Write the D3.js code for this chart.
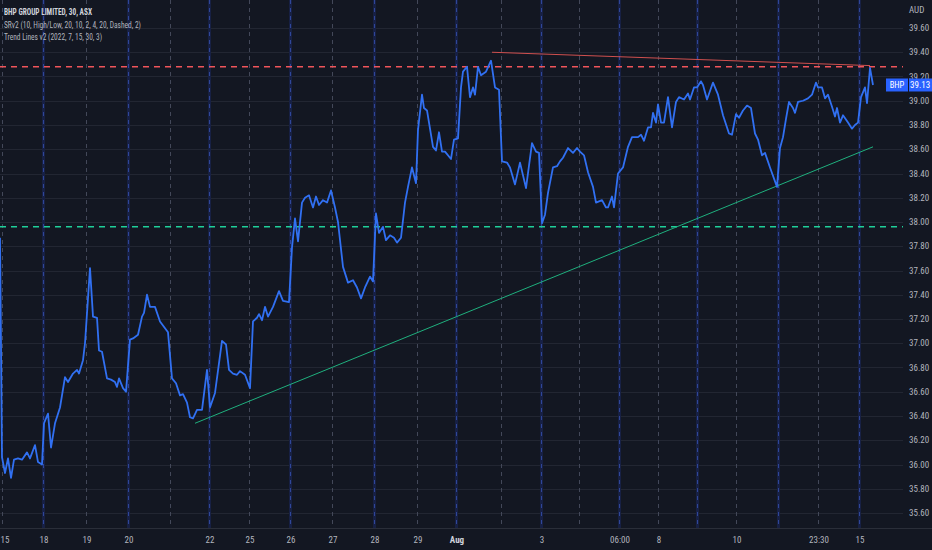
<!DOCTYPE html>
<html>
<head>
<meta charset="utf-8">
<script src="https://cdn.jsdelivr.net/npm/d3@7/dist/d3.min.js"></script>
<style>
  html, body { margin: 0; padding: 0; background: #131722; }
  svg { display: block; }
  text { font-family: "Liberation Sans Narrow", "Roboto Condensed", Roboto, sans-serif; }
</style>
</head>
<body>
<svg id="chart" width="932" height="550"></svg>
<script>
// time index of each traced close (15-min steps from the left edge of the view)
var steps = [
    0, 1, 2.5, 4, 5.5, 7, 9, 11, 13.5, 15, 17.5, 19, 21, 22, 24, 25.5, 27.5, 30,
    32.5, 34, 36.5, 38.5, 39.5, 41.5, 42.5, 45, 46.5, 48.5, 49.5, 51, 53.5, 55.5,
    57.5, 58.5, 59.5, 61.5, 63, 65, 66.5, 69, 71, 72, 73.5, 75, 77.5, 80, 84, 86,
    88, 90, 91.5, 93.5, 95, 96.5, 98.5, 101, 103.5, 105, 107.5, 111, 113, 114.5,
    116.5, 118.5, 120, 122.5, 125, 126.5, 128.5, 129.5, 131, 132.5, 134, 136.5,
    139.5, 141.5, 144.5, 146, 147.5, 149, 151, 152.5, 154.5, 156.5, 158, 159.5,
    161.5, 163.5, 165.5, 167.5, 169, 171.5, 174, 176.5, 178.5, 180.5, 182.5, 185,
    186.5, 188, 189.5, 191.5, 193, 195, 197, 198.5, 200.5, 202.5, 204, 206, 208,
    209, 211, 212, 213.5, 216.5, 218, 219.5, 221, 222.5, 225.5, 227, 229, 230.5,
    231.5, 233.5, 235, 236.5, 237.5, 239, 240.5, 243, 245.5, 247.5, 249.5, 251,
    253.5, 255, 257.5, 260, 263, 266, 268, 269.5, 271, 272.5, 274, 276.5, 278.5,
    280, 281.5, 284, 286.5, 288.5, 290, 292, 294, 296.5, 298, 301, 303, 304, 306,
    307, 309, 311.5, 314, 316, 319, 320.5, 322, 324, 325.5, 326.5, 328, 329, 330.5,
    332, 334, 336, 338, 339.5, 342, 344, 345, 347, 348.5, 350.5, 351.5, 353.5,
    356.5, 359, 361.5, 364.5, 366, 368, 369.5, 371.5, 373.5, 375.5, 377.5, 379,
    381, 382.5, 385, 388.5, 390, 391.5, 393, 394.5, 396.5, 397.5, 399, 401.5, 404,
    406, 408, 409, 411, 412.5, 414, 416, 417.5, 418.5, 420, 421.5, 424, 426, 427.5,
    429, 430.5, 432.5, 433.5, 435, 436.5
];
var closes = [
    37.87, 36.06, 35.93, 36.05, 35.89, 36.04, 36.05, 36.04, 36.10, 36.05, 36.16, 36.02, 36.00, 36.34, 36.42, 36.14, 36.34, 36.47,
    36.72, 36.68, 36.75, 36.78, 36.75, 36.86, 37.00, 37.62, 37.22, 37.21, 36.94, 36.93, 36.71, 36.70,
    36.68, 36.64, 36.71, 36.63, 36.60, 37.03, 37.04, 37.07, 37.22, 37.25, 37.40, 37.30, 37.30, 37.18, 37.09, 36.71,
    36.67, 36.57, 36.58, 36.51, 36.39, 36.38, 36.45, 36.45, 36.78, 36.47, 36.59, 37.02, 36.99, 36.78,
    36.75, 36.74, 36.77, 36.74, 36.63, 37.18, 37.21, 37.24, 37.19, 37.30, 37.22, 37.30,
    37.43, 37.35, 37.34, 37.79, 38.03, 37.84, 38.16, 38.20, 38.22, 38.12, 38.21, 38.14,
    38.18, 38.16, 38.26, 38.12, 38.00, 37.63, 37.50, 37.52, 37.46, 37.37, 37.46, 37.55,
    37.51, 38.07, 37.91, 37.96, 37.85, 37.89, 37.87, 37.83, 37.87, 38.16, 38.29, 38.45, 38.32,
    38.76, 39.05, 38.94, 38.92, 38.62, 38.59, 38.74, 38.58, 38.58, 38.52, 38.68, 38.69, 39.11,
    39.24, 39.28, 39.03, 39.11, 39.05, 39.28, 39.21, 39.24, 39.33, 39.11, 39.09, 38.50,
    38.49, 38.45, 38.31, 38.49, 38.28, 38.65, 38.58, 38.57, 37.99, 38.06, 38.24, 38.45, 38.46,
    38.50, 38.53, 38.61, 38.57, 38.61, 38.58, 38.55, 38.41, 38.29, 38.16, 38.18, 38.12, 38.12, 38.21,
    38.12, 38.40, 38.45, 38.62, 38.70, 38.70, 38.72, 38.67, 38.78, 38.78, 38.90, 38.82, 38.97, 38.82,
    38.82, 39.03, 38.78, 38.99, 39.03, 39.01, 39.06, 39.01, 39.11, 39.11, 39.16, 39.13, 39.01,
    39.15, 39.05, 38.88, 38.73, 38.72, 38.89, 38.86, 38.92, 38.96, 38.94, 38.73, 38.68,
    38.55, 38.57, 38.45, 38.29, 38.61, 38.70, 38.85, 38.99, 38.94, 38.90, 38.99, 39.00, 39.02,
    39.05, 39.15, 39.11, 39.11, 39.02, 39.05, 38.95, 38.87, 38.94, 38.82, 38.88, 38.82, 38.77, 38.80,
    38.82, 39.03, 39.11, 38.98, 39.27, 39.13
];

// session separators on the time axis and their labels
var sessionSteps = [0.85, 21.5, 43, 64, 85, 104.5, 124.5, 145, 166, 187, 208.5, 228,
    250.5, 270.5, 289.5, 309.5, 329, 348.5, 368, 389, 409, 429.5];
var sessionLabels = ['15', '18', '19', '20', '', '22', '25', '26', '27', '28', '29', 'Aug',
    '', '3', '', '06:00', '8', '', '10', '', '23:30', '15'];

var priceTicks = d3.range(35.6, 39.61, 0.2);

// SRv2 levels
var resistance = 39.28;
var support = 37.96;

// Trend Lines v2 endpoints [step, price]
var upperTrend = [[246, 39.40], [435, 39.29]];
var lowerTrend = [[97.5, 36.34], [436.5, 38.62]];

var legendLines = [
    'BHP GROUP LIMITED, 30, ASX',
    'SRv2 (10, High/Low, 20, 10, 2, 4, 20, Dashed, 2)',
    'Trend Lines v2 (2022, 7, 15, 30, 3)'
];
var legendWidths = [88, 137, 98];

var lastPrice = closes[closes.length - 1];

var width = 932,
    height = 550,
    paneRight = 903,
    paneBottom = 528;

var svg = d3.select('#chart');

svg.append('rect')
    .attr('width', width)
    .attr('height', height)
    .attr('fill', '#131722');

var x = d3.scaleLinear().domain([0, 450]).range([0, 900]);
var y = d3.scaleLinear().domain([35.6, 39.6]).range([513, 28]);

// horizontal grid
svg.append('g')
    .selectAll('line')
    .data(priceTicks)
    .enter().append('line')
    .attr('x1', 0)
    .attr('x2', paneRight)
    .attr('y1', function(d) { return Math.round(y(d)) + 0.5; })
    .attr('y2', function(d) { return Math.round(y(d)) + 0.5; })
    .attr('stroke', '#222632')
    .attr('stroke-width', 1);

// vertical session lines: every other one is drawn blue
var vgrid = svg.append('g');
sessionSteps.forEach(function(s, i) {
    var px = Math.round(x(s)) + 0.5;
    var blue = i % 2 === 1;
    if (blue) {
        vgrid.append('line')
            .attr('x1', px).attr('x2', px)
            .attr('y1', 0).attr('y2', paneBottom)
            .attr('stroke', '#172044')
            .attr('stroke-width', 3);
    }
    vgrid.append('line')
        .attr('x1', px).attr('x2', px)
        .attr('y1', 0).attr('y2', paneBottom)
        .attr('stroke', blue ? '#2f4699' : '#434859')
        .attr('stroke-width', 1)
        .attr('stroke-dasharray', '4,4');
});

// support / resistance
svg.append('line')
    .attr('x1', 0).attr('x2', paneRight)
    .attr('y1', y(resistance)).attr('y2', y(resistance))
    .attr('stroke', '#f0555a')
    .attr('stroke-width', 1.5)
    .attr('stroke-dasharray', '6,5');

svg.append('line')
    .attr('x1', 0).attr('x2', paneRight)
    .attr('y1', y(support)).attr('y2', y(support))
    .attr('stroke', '#1fd09a')
    .attr('stroke-width', 1.5)
    .attr('stroke-dasharray', '6,5');

// trend lines
var trendLine = d3.line()
    .x(function(d) { return x(d[0]); })
    .y(function(d) { return y(d[1]); });

svg.append('path')
    .datum(upperTrend)
    .attr('d', trendLine)
    .attr('fill', 'none')
    .attr('stroke', '#d0504f')
    .attr('stroke-width', 1);

svg.append('path')
    .datum(lowerTrend)
    .attr('d', trendLine)
    .attr('fill', 'none')
    .attr('stroke', '#1fb07e')
    .attr('stroke-width', 1);

// price line
var priceLine = d3.line()
    .x(function(d, i) { return x(steps[i]); })
    .y(function(d) { return y(d); });

svg.append('path')
    .datum(closes)
    .attr('d', priceLine)
    .attr('fill', 'none')
    .attr('stroke', '#3170f2')
    .attr('stroke-width', 1.8)
    .attr('stroke-linejoin', 'round');

// bottom separator
svg.append('line')
    .attr('x1', 0).attr('x2', width)
    .attr('y1', paneBottom + 0.5).attr('y2', paneBottom + 0.5)
    .attr('stroke', '#2a2e39');

// price axis
svg.append('g')
    .selectAll('text')
    .data(priceTicks)
    .enter().append('text')
    .attr('x', 909)
    .attr('y', function(d) { return y(d) + 3; })
    .attr('fill', '#b2b5be')
    .attr('font-size', 9)
    .text(function(d) { return d3.format('.2f')(d); });

svg.append('text')
    .attr('x', 909)
    .attr('y', 13)
    .attr('fill', '#b2b5be')
    .attr('font-size', 9)
    .text('AUD');

// last price tag
var tagY = y(lastPrice);
svg.append('rect')
    .attr('x', 886).attr('y', tagY - 6.5)
    .attr('width', 22).attr('height', 13)
    .attr('fill', '#2962ff');
svg.append('rect')
    .attr('x', 909).attr('y', tagY - 6.5)
    .attr('width', 23).attr('height', 13)
    .attr('fill', '#2962ff');
svg.append('text')
    .attr('x', 897).attr('y', tagY + 3)
    .attr('text-anchor', 'middle')
    .attr('fill', '#ffffff')
    .attr('font-size', 8.5)
    .text('BHP');
svg.append('text')
    .attr('x', 910).attr('y', tagY + 3)
    .attr('fill', '#ffffff')
    .attr('font-size', 9)
    .text(d3.format('.2f')(lastPrice));

// time axis
svg.append('g')
    .selectAll('text')
    .data(sessionSteps.map(function(s, i) { return { s: s, label: sessionLabels[i] }; })
        .filter(function(d) { return d.label !== ''; }))
    .enter().append('text')
    .attr('x', function(d) { return Math.max(x(d.s) + 1, 5); })
    .attr('y', 543)
    .attr('text-anchor', 'middle')
    .attr('fill', function(d) { return d.label === 'Aug' ? '#d1d4dc' : '#b2b5be'; })
    .attr('font-weight', function(d) { return d.label === 'Aug' ? 'bold' : 'normal'; })
    .attr('font-size', 9)
    .text(function(d) { return d.label; });

// legend
svg.append('g')
    .selectAll('text')
    .data(legendLines)
    .enter().append('text')
    .attr('x', 4)
    .attr('y', function(d, i) { return 15 + i * 12.5; })
    .attr('fill', function(d, i) { return i === 0 ? '#d1d4dc' : '#b2b5be'; })
    .attr('font-weight', function(d, i) { return i === 0 ? 'bold' : 'normal'; })
    .attr('font-size', 9.5)
    .attr('textLength', function(d, i) { return legendWidths[i]; })
    .attr('lengthAdjust', 'spacingAndGlyphs')
    .text(function(d) { return d; });
</script>
</body>
</html>
